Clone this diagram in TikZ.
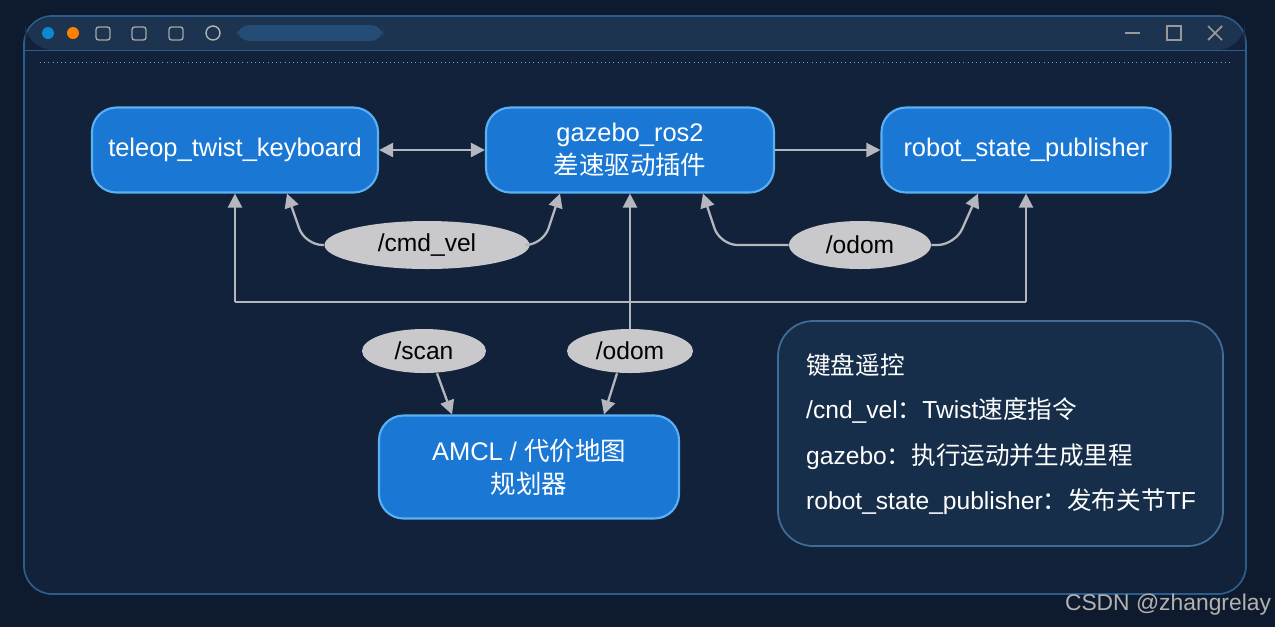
\documentclass[tikz,border=0pt]{standalone}
\usepackage{fontspec}
\setmainfont{Liberation Sans}
\newfontfamily\cjk{Noto Sans CJK SC}
\usetikzlibrary{shapes.geometric,arrows.meta,positioning}
\definecolor{bgnavy}{HTML}{0E1B2E}
\definecolor{winbody}{HTML}{12223A}
\definecolor{winbar}{HTML}{1C3450}
\definecolor{winedge}{HTML}{2C5C8C}
\definecolor{nodeblue}{HTML}{1A78D4}
\definecolor{nodeedge}{HTML}{5AB0F5}
\definecolor{topicgray}{HTML}{C9C9CC}
\definecolor{linkgray}{HTML}{B4B8BE}
\tikzset{
    rosnode/.style={draw=nodeedge, line width=1.2pt, fill=nodeblue, rounded corners=14pt,
                    text=white, align=center, font=\fontsize{14.5}{19}\selectfont},
    topic/.style={ellipse, fill=topicgray, text=black, inner sep=0pt,
                  font=\fontsize{14}{16}\selectfont},
    link/.style={draw=linkgray, line width=1.3pt, -{Triangle[length=8pt,width=8pt]}},
    biglink/.style={link, {Triangle[length=8pt,width=8pt]}-{Triangle[length=8pt,width=8pt]}},
    infotext/.style={text=white, anchor=west, font=\fontsize{14}{16}\selectfont}
}
\begin{document}
\begin{tikzpicture}[x=0.02cm, y=-0.02cm]
    \useasboundingbox (0,0) rectangle (1275,627);
    \fill[bgnavy] (0,0) rectangle (1275,627);
    % window frame
    \fill[winbody, draw=winedge, line width=1pt, rounded corners=16pt] (24,16) rectangle (1246,594);
    \fill[winbar, rounded corners=16pt] (25,17) -- (1245,17) -- (1245,50) -- (25,50) -- cycle;
    \draw[winedge] (24,50) -- (1246,50);
    \fill[cyan!70!blue] (48,33) circle (6);
    \fill[orange] (73,33) circle (6);
    \foreach \ix in {103,139,176}
        \draw[gray!70, line width=0.8pt, rounded corners=1.5pt] (\ix-7,27) rectangle (\ix+7,40);
    \draw[gray!60, line width=0.8pt] (213,33) circle (7);
    \fill[winedge!60!winbar, rounded corners=7pt] (237,25) rectangle (383,41);
    \draw[gray!80, line width=1pt] (1125,33) -- (1140,33);
    \draw[gray!80, line width=1pt] (1167,26) rectangle (1181,40);
    \draw[gray!80, line width=1pt] (1208,26) -- (1222,40) (1222,26) -- (1208,40);
    \draw[winedge!60, dotted] (40,62) -- (1230,62);

    % ROS nodes
    \node[rosnode, minimum width=286*0.02cm, minimum height=85*0.02cm] (teleop) at (235,150) {teleop\_twist\_keyboard};
    \node[rosnode, minimum width=288*0.02cm, minimum height=85*0.02cm] (gazebo) at (630,150) {gazebo\_ros2\\{\cjk 差速驱动插件}};
    \node[rosnode, minimum width=289*0.02cm, minimum height=85*0.02cm] (rsp) at (1026,150) {robot\_state\_publisher};
    \node[rosnode, minimum width=300*0.02cm, minimum height=103*0.02cm] (amcl) at (529,467) {AMCL / {\cjk 代价地图}\\{\cjk 规划器}};

    % topics
    \node[topic, minimum width=205*0.02cm, minimum height=48*0.02cm] (cmdvel) at (427,245) {/cmd\_vel};
    \node[topic, minimum width=142*0.02cm, minimum height=48*0.02cm] (odomtop) at (860,245) {/odom};
    \node[topic, minimum width=124*0.02cm, minimum height=44*0.02cm] (scan) at (424,351) {/scan};
    \node[topic, minimum width=126*0.02cm, minimum height=44*0.02cm] (odomlow) at (630,351) {/odom};

    % connectors
    \draw[biglink] (teleop) -- (gazebo);
    \draw[link] (gazebo) -- (rsp);
    \draw[link, rounded corners=10pt] (cmdvel.west) -- (305,245) -- (teleop.south -| 287,0);
    \draw[link, rounded corners=10pt] (cmdvel.east) -- (543,245) -- (gazebo.south -| 560,0);
    \draw[link, rounded corners=10pt] (odomtop.west) -- (720,245) -- (gazebo.south -| 703,0);
    \draw[link, rounded corners=10pt] (odomtop.east) -- (955,245) -- (rsp.south -| 978,0);
    \coordinate (busleft) at (235,302);
    \coordinate (busright) at (1026,302);
    \draw[linkgray, line width=1.3pt] (busleft) -- (busright);
    \draw[link] (busleft) -- (teleop.south);
    \draw[link] (busright) -- (rsp.south);
    \draw[link] (odomlow.north) -- (gazebo.south);
    \draw[link] (scan.south -| 437,0) -- (amcl.north -| 452,0);
    \draw[link] (odomlow.south -| 617,0) -- (amcl.north -| 604,0);

    % info box
    \draw[winedge!90!white, fill=winbody!80!winedge, line width=1pt, rounded corners=20pt] (778,321) rectangle (1223,546);
    \node[infotext] (infoA) at (800,365) {\cjk 键盘遥控};
    \node[infotext] (infoB) at (800,411) {/cnd\_vel{\cjk ：}Twist{\cjk 速度指令}};
    \node[infotext] (infoC) at (800,457) {gazebo{\cjk ：执行运动并生成里程}};
    \node[infotext] (infoD) at (800,502) {robot\_state\_publisher{\cjk ：发布关节}TF};

    \node[text=gray!60, font=\fontsize{13}{15}\selectfont] (mark) at (1168,605) {CSDN @zhangrelay};
\end{tikzpicture}
\end{document}
